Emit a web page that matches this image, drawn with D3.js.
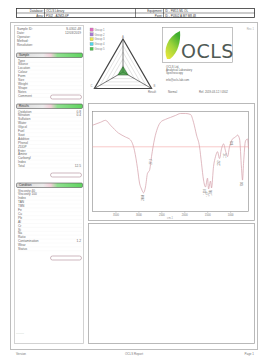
<!DOCTYPE html>
<html>
<head>
<meta charset="utf-8">
<script src="https://cdn.jsdelivr.net/npm/d3@7"></script>
<style>
  body { margin: 0; background: #fff; }
  svg text { font-family: "Liberation Sans", Arial, sans-serif; }
</style>
</head>
<body>
<div id="chart"></div>
<script>
// spectrum (wavenumber cm-1, transmittance %)
var wavenumbers = [4000, 3826, 3717, 3608, 3433, 3281, 3172, 3084, 3019, 2975, 2932, 2888, 2845, 2801, 2757, 2714, 2648, 2583, 2518, 2409, 2300, 2191, 2082, 1973, 1864, 1798, 1733, 1667, 1624, 1580, 1537, 1493, 1471, 1428, 1406, 1362, 1319, 1275, 1232, 1188, 1144, 1101, 1057, 1014, 948, 883, 839, 795, 752, 730, 708, 665, 621, 600];
var transmittance = [87, 90, 92, 87, 79, 75, 72, 61, 43, 28, 22, 18, 24, 38, 41, 55, 73, 84, 90, 93, 95, 97, 99, 99, 98, 90, 77, 65, 48, 31, 24, 33, 22, 30, 23, 45, 55, 60, 53, 63, 68, 61, 55, 65, 73, 75, 77, 73, 43, 31, 48, 71, 73, 63];
var peakWn = [2888, 2714, 1537, 1471, 1406, 1232, 1101, 948, 730];
var peakT = [18, 55, 24, 22, 23, 53, 61, 73, 31];
var referenceLevel = 65;
var xTicks = [3500, 3000, 2500, 2000, 1500, 1000];

// radar
var radarAxes = ["A", "B", "C"];
var radarValues = [0.16, 0.17, 0.17];
var legendNames = ["Group 1", "Group 2", "Group 3", "Group 4", "Group 5"];
var legendColors = ["#e36bc4", "#a77bd6", "#efe84a", "#4fd8ec", "#4cc44c"];

// header table
var headerLabels = [["Database", "Equipment"], ["Area", "Point"]];
var headerValues = [["OCLS Library", "ID - FM15 ML OL"], ["P302 - A2M2L6P", "ID - P0302 A M7 M8 48"]];

// left panel
var infoLabels = ["Sample ID", "Date", "Operator", "Method", "Resolution"];
var infoValues = ["S-0302-48", "12/03/2019", "", "", ""];
var sections = ["Sample", "Results", "Condition"];
var section1Labels = ["Type", "  Source", "Location", "Colour", "Form", "Size", "Weight", "Shape", "  Notes", "Comment"];
var section1Values = ["", "", "", "", "", "", "", "", "", ""];
var section2Labels = ["Oxidation", "Nitration", "Sulfation", "Water", "Glycol", "Fuel", "Soot", "Additive", "Phenol", "ZDDP", "Ester", "Amine", "Carbonyl", "Index", "Total"];
var section2Values = ["0.8", "0.4", "", "", "", "", "", "", "", "", "", "", "", "", "12.5"];
var section3Labels = ["Viscosity 40", "Viscosity 100", "Index", "TAN", "TBN", "Fe", "  Cu", "  Pb", "  Al", "Cr", "Si", "Na", "Ratio", "Contamination", "Wear", "Status"];
var section3Values = ["", "", "", "", "", "", "", "", "", "", "", "", "", "1.2", "", ""];

var W = 258, H = 359;
var svg = d3.select("#chart").append("svg")
    .attr("width", W).attr("height", H);
svg.append("rect").attr("width", W).attr("height", H).attr("fill", "#fff");

var defs = svg.append("defs");
var hg = defs.append("linearGradient").attr("id", "hdr");
hg.append("stop").attr("offset", "0%").attr("stop-color", "#d9d9d9");
hg.append("stop").attr("offset", "40%").attr("stop-color", "#ececec");
hg.append("stop").attr("offset", "52%").attr("stop-color", "#f2cfd8");
hg.append("stop").attr("offset", "62%").attr("stop-color", "#8fe08f");
hg.append("stop").attr("offset", "100%").attr("stop-color", "#5fd35f");
var lg = defs.append("linearGradient").attr("id", "leaf")
    .attr("x1", "0%").attr("y1", "100%").attr("x2", "60%").attr("y2", "0%");
lg.append("stop").attr("offset", "0%").attr("stop-color", "#f2e93a");
lg.append("stop").attr("offset", "55%").attr("stop-color", "#9ed43a");
lg.append("stop").attr("offset", "100%").attr("stop-color", "#3fae2f");

function tiny(g, x, y, t, anchor, size, col) {
    return g.append("text").attr("x", x).attr("y", y)
        .attr("font-size", size || 3.2)
        .attr("fill", col || "#666")
        .attr("text-anchor", anchor || "start")
        .text(t);
}

// page frame
svg.append("rect").attr("x", 10.5).attr("y", 22.5).attr("width", 247).attr("height", 327)
    .attr("fill", "none").attr("stroke", "#bdbdbd").attr("stroke-width", 1);

// header table
var ht = svg.append("g");
ht.append("rect").attr("x", 16.5).attr("y", 8.5).attr("width", 238).attr("height", 9)
    .attr("fill", "#fff").attr("stroke", "#333").attr("stroke-width", 0.8);
ht.append("line").attr("x1", 16.5).attr("x2", 254.5).attr("y1", 13).attr("y2", 13).attr("stroke", "#333").attr("stroke-width", 0.5);
[44.5, 135.5, 163.5].forEach(function (x) {
    ht.append("line").attr("x1", x).attr("x2", x).attr("y1", 8.5).attr("y2", 17.5).attr("stroke", "#333").attr("stroke-width", 0.6);
});
for (var r = 0; r < 2; r++) {
    var yy = 12 + r * 4.5;
    tiny(ht, 43.5, yy, headerLabels[r][0] + ":", "end", 3, "#333");
    tiny(ht, 46, yy, headerValues[r][0], "start", 3, "#333");
    tiny(ht, 162.5, yy, headerLabels[r][1] + ":", "end", 3, "#333");
    tiny(ht, 165, yy, headerValues[r][1], "start", 3, "#333");
}

// left panel
var lp = svg.append("g");
lp.append("rect").attr("x", 14.5).attr("y", 25.5).attr("width", 69).attr("height", 318)
    .attr("fill", "#fff").attr("stroke", "#c8c8c8").attr("stroke-width", 0.8);
infoLabels.forEach(function (t, i) {
    tiny(lp, 17, 30 + i * 4, t + ":");
    tiny(lp, 81, 30 + i * 4, infoValues[i], "end");
});

function section(y0, title, labels, values, pillY) {
    var g = lp.append("g");
    g.append("rect").attr("x", 16.5).attr("y", y0).attr("width", 66).attr("height", 4.5)
        .attr("rx", 1.2).attr("fill", "url(#hdr)").attr("stroke", "#555").attr("stroke-width", 0.6);
    tiny(g, 19, y0 + 3.4, title, "start", 3, "#333");
    labels.forEach(function (t, i) {
        var yy = y0 + 8.5 + i * 3.9;
        tiny(g, 18, yy, t);
        tiny(g, 81, yy, values[i], "end");
        g.append("line").attr("x1", 17).attr("x2", 82).attr("y1", yy + 0.8).attr("y2", yy + 0.8)
            .attr("stroke", "#eee").attr("stroke-width", 0.3);
    });
    g.append("rect").attr("x", 50.5).attr("y", pillY).attr("width", 31).attr("height", 4)
        .attr("rx", 2).attr("fill", "#fff").attr("stroke", "#b99aa4").attr("stroke-width", 0.7);
}
section(53, sections[0], section1Labels, section1Values, 95);
section(104, sections[1], section2Labels, section2Values, 173);
section(183, sections[2], section3Labels, section3Values, 256);
tiny(lp, 16, 334, "--------", "start", 3, "#aaa");

// radar chart
var rc = svg.append("g");
var cx = 123, cy = 72, R = 33;
var ang = radarAxes.map(function (d, i) { return -Math.PI / 2 + i * 2 * Math.PI / 3; });
var rScale = d3.scaleLinear().domain([0, 1]).range([0, R]);
var levels = d3.range(1, 6).map(function (d) { return d / 5; });
levels.forEach(function (lv) {
    rc.append("polygon")
        .attr("points", ang.map(function (a) { return [cx + Math.cos(a) * rScale(lv), cy + Math.sin(a) * rScale(lv)].join(","); }).join(" "))
        .attr("fill", "none").attr("stroke", lv === 1 ? "#444" : "#bbb").attr("stroke-width", lv === 1 ? 1.2 : 0.4);
});
ang.forEach(function (a, i) {
    var vx = cx + Math.cos(a) * R, vy = cy + Math.sin(a) * R;
    rc.append("line").attr("x1", cx).attr("y1", cy)
        .attr("x2", vx).attr("y2", vy)
        .attr("stroke", "#555").attr("stroke-width", 0.8);
    // axis name beside its vertex
    if (i === 0) tiny(rc, vx, vy - 1.5, radarAxes[i], "middle", 2.8, "#888");
    else tiny(rc, vx + (Math.cos(a) > 0 ? 2 : -2), vy - 1.5, radarAxes[i], Math.cos(a) > 0 ? "start" : "end", 2.8, "#888");
});
rc.append("polygon")
    .attr("points", ang.map(function (a, i) { return [cx + Math.cos(a) * rScale(radarValues[i]), cy + Math.sin(a) * rScale(radarValues[i])].join(","); }).join(" "))
    .attr("fill", "#2f8f2f").attr("fill-opacity", 0.8).attr("stroke", "#1c6a1c").attr("stroke-width", 0.6);
legendNames.forEach(function (n, i) {
    rc.append("rect").attr("x", 90).attr("y", 28 + i * 4.8).attr("width", 3.2).attr("height", 3.2)
        .attr("fill", legendColors[i]).attr("stroke", "#888").attr("stroke-width", 0.3);
    tiny(rc, 94.5, 30.8 + i * 4.8, n, "start", 2.8, "#888");
});

// logo block
var lb = svg.append("g");
lb.append("rect").attr("x", 162.5).attr("y", 27.5).attr("width", 70).attr("height", 35)
    .attr("fill", "#fff").attr("stroke", "#999").attr("stroke-width", 0.6);
lb.append("path")
    .attr("d", "M167,59 C163,50 167,37 180,31 C181,41 178,53 170,59 Z")
    .attr("fill", "url(#leaf)");
lb.append("text").attr("x", 181).attr("y", 57.5).attr("font-size", 19)
    .attr("fill", "#505a55").attr("letter-spacing", 0.5)
    .style("font-family", "'DejaVu Sans', sans-serif")
    .text("OCLS");
tiny(lb, 166, 68, "OCLS Ltd.", "start", 2.8);
tiny(lb, 166, 71, "Analytical Laboratory", "start", 2.8);
tiny(lb, 166, 74, "Spectroscopy", "start", 2.8);
tiny(lb, 166, 81, "info@ocls-lab.com", "start", 2.8);
tiny(lb, 148, 92.5, "Result", "start", 2.8);
tiny(lb, 168, 92.5, "Normal", "start", 2.8);
tiny(lb, 199, 92.5, "Ref. 2019-03-12 / 0302", "start", 2.8);
tiny(lb, 254, 30, "Rev. 1", "end", 2.6, "#aaa");

// spectrum panel
var sp = svg.append("g");
sp.append("rect").attr("x", 88.5).attr("y", 103.5).attr("width", 166).attr("height", 117)
    .attr("fill", "#fff").attr("stroke", "#a8a8a8").attr("stroke-width", 0.8);
sp.append("rect").attr("x", 88.5).attr("y", 223.5).attr("width", 166).attr("height", 120)
    .attr("fill", "#fff").attr("stroke", "#a8a8a8").attr("stroke-width", 0.8);

var x = d3.scaleLinear().domain([4000, 600]).range([92.5, 248.5]);
var y = d3.scaleLinear().domain([0, 100]).range([210.5, 112.5]);
sp.append("rect").attr("x", 92.5).attr("y", 111.5).attr("width", 156).attr("height", 100)
    .attr("fill", "#fff").attr("stroke", "#888").attr("stroke-width", 0.6);

var xAxis = sp.append("g").attr("transform", "translate(0,211.5)")
    .call(d3.axisBottom(x).tickValues(xTicks).tickSize(1.5).tickPadding(1).tickFormat(d3.format("d")));
xAxis.select(".domain").remove();
xAxis.selectAll("line").attr("stroke", "#999").attr("stroke-width", 0.4);
xAxis.selectAll("text").attr("font-size", 2.6).attr("fill", "#777");
tiny(sp, 170, 219, "cm-1", "middle", 2.6, "#999");

sp.append("line").attr("x1", x(4000)).attr("x2", x(600))
    .attr("y1", y(referenceLevel)).attr("y2", y(referenceLevel))
    .attr("stroke", "#f2a3a3").attr("stroke-width", 0.6);

var pts = wavenumbers.map(function (w, i) { return [w, transmittance[i]]; });
sp.append("path").datum(pts)
    .attr("d", d3.line().x(function (d) { return x(d[0]); }).y(function (d) { return y(d[1]); }).curve(d3.curveMonotoneX))
    .attr("fill", "none").attr("stroke", "#d29ca6").attr("stroke-width", 0.7);

peakWn.forEach(function (w, i) {
    var px = x(w), py = y(peakT[i]) + 2;
    sp.append("text").attr("transform", "translate(" + (px + 0.9) + "," + py + ") rotate(-90)")
        .attr("font-size", 2.6).attr("fill", "#666").attr("text-anchor", "end")
        .text(w);
});

// footer
var ft = svg.append("g");
tiny(ft, 16, 354.5, "Version", "start", 3, "#777");
tiny(ft, 134, 354.5, "OCLS Report", "middle", 3, "#777");
tiny(ft, 254, 354.5, "Page 1", "end", 3, "#777");
</script>
</body>
</html>
